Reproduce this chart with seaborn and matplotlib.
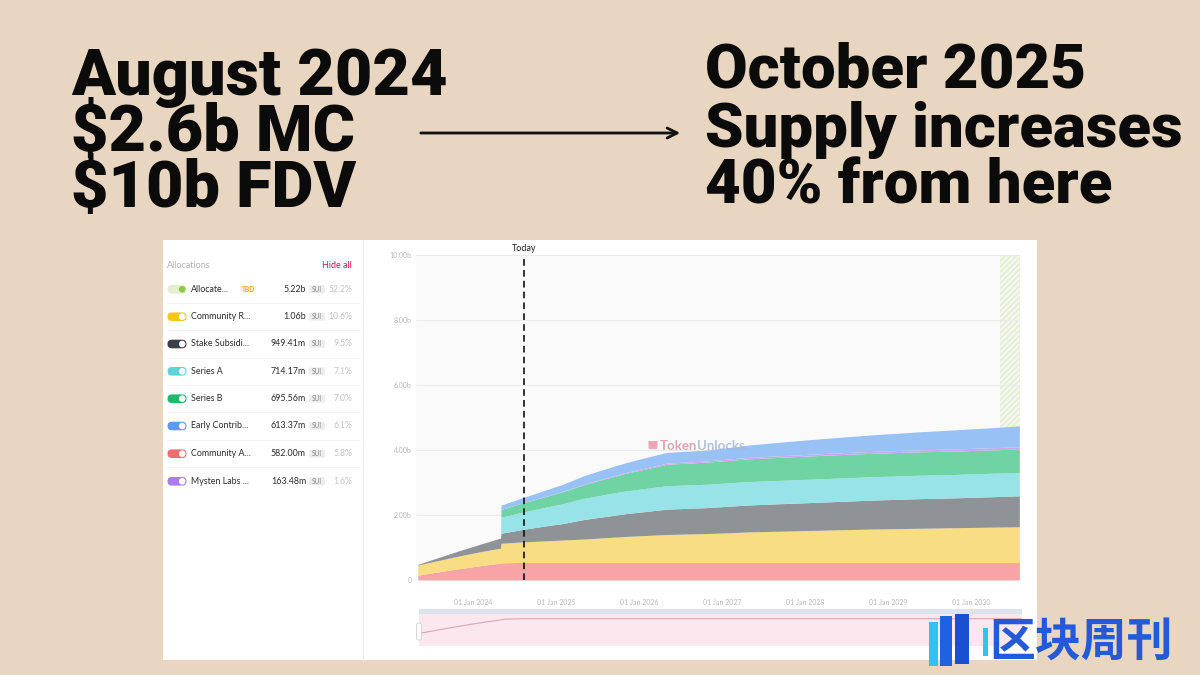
import matplotlib
matplotlib.use("Agg")
import matplotlib.pyplot as plt
from matplotlib.patches import FancyBboxPatch, Rectangle, Circle, Arc
from matplotlib.textpath import TextPath
from matplotlib.font_manager import FontProperties
import seaborn as sns
import pandas as pd

# ---------------- data ----------------
dates = ["2023-05-03", "2023-08-01", "2023-11-01", "2024-02-01", "2024-05-01",
         "2024-05-03", "2024-08-01", "2024-11-01", "2025-02-01", "2025-05-01",
         "2025-08-01", "2025-11-01", "2026-02-01", "2026-05-01", "2026-11-01",
         "2027-05-01", "2027-11-01", "2028-05-01", "2028-11-01", "2029-05-01",
         "2029-11-01", "2030-05-01", "2030-08-01"]
# circulating supply per allocation, billions SUI (stack order bottom -> top)
community_access = [0.15, 0.25, 0.35, 0.44, 0.52, 0.53, 0.54, 0.54, 0.54, 0.54,
                    0.54, 0.54, 0.54, 0.54, 0.54, 0.54, 0.54, 0.54, 0.54, 0.54,
                    0.54, 0.54, 0.54]
community_reserve = [0.31, 0.35, 0.39, 0.43, 0.46, 0.60, 0.63, 0.66, 0.69, 0.72,
                     0.76, 0.80, 0.83, 0.86, 0.89, 0.94, 0.97, 1.00, 1.03, 1.05,
                     1.07, 1.09, 1.10]
stake_subsidies = [0.02, 0.09, 0.16, 0.23, 0.31, 0.31, 0.38, 0.45, 0.51, 0.60,
                   0.65, 0.70, 0.74, 0.78, 0.80, 0.83, 0.85, 0.87, 0.89, 0.91,
                   0.92, 0.94, 0.95]
series_a = [0, 0, 0, 0, 0, 0.49, 0.53, 0.57, 0.61, 0.65, 0.68, 0.70, 0.71, 0.72,
            0.72, 0.72, 0.72, 0.72, 0.72, 0.72, 0.72, 0.72, 0.72]
series_b = [0, 0, 0, 0, 0, 0.24, 0.28, 0.32, 0.37, 0.42, 0.48, 0.54, 0.60, 0.66,
            0.68, 0.70, 0.71, 0.72, 0.72, 0.72, 0.72, 0.72, 0.72]
mysten_labs = [0, 0, 0, 0, 0, 0, 0, 0.005, 0.01, 0.015, 0.02, 0.025, 0.03, 0.035,
               0.04, 0.045, 0.05, 0.055, 0.06, 0.062, 0.065, 0.068, 0.07]
early_contrib = [0, 0, 0, 0, 0, 0.13, 0.16, 0.19, 0.22, 0.26, 0.28, 0.30, 0.32,
                 0.33, 0.33, 0.38, 0.43, 0.47, 0.51, 0.55, 0.59, 0.62, 0.64]

alloc_names = ["Allocate...", "Community R...", "Stake Subsidi...", "Series A",
               "Series B", "Early Contrib...", "Community A...", "Mysten Labs ..."]
alloc_amounts = ["5.22b", "1.06b", "949.41m", "714.17m", "695.56m", "613.37m",
                 "582.00m", "163.48m"]
alloc_pcts = ["52.2%", "10.6%", "9.5%", "7.1%", "7.0%", "6.1%", "5.8%", "1.6%"]

year_ticks = [2024, 2025, 2026, 2027, 2028, 2029, 2030]
y_ticks = [0, 2, 4, 6, 8, 10]
y_tick_labels = ["0", "2.00b", "4.00b", "6.00b", "8.00b", "10.00b"]
today = "2024-08-12"
tbd_span = ["2030-05-08", "2030-08-04"]
x_range = ["2023-04-25", "2030-08-04"]

headline_left = ["August 2024", "$2.6b MC", "$10b FDV"]
headline_right = ["October 2025", "Supply increases", "40% from here"]

# ---------------- style ----------------
sns.set_theme(style="white")
plt.rcParams['font.family'] = ['Lato', 'DejaVu Sans']

BG = '#E9D6C1'
layer_colors = ['#F8A3A5', '#F8DD82', '#8F9297', '#98E3E8', '#6FD3A4', '#C9A7F4', '#98C1F6']
toggle_colors = ['#E4F0CC', '#F5C71A', '#3A3F47', '#5CD4D8', '#1DB86A', '#5B9BF0', '#F26D6D', '#A97CF0']
HEAD_FAMILY = ['Roboto', 'DejaVu Sans']
HEAD_WEIGHT = 'black'

fig = plt.figure(figsize=(12, 6.75), dpi=100, facecolor=BG)
renderer = fig.canvas.get_renderer()

# background axes in pixel coordinates
bg = fig.add_axes([0, 0, 1, 1], zorder=0)
bg.set_xlim(0, 1200)
bg.set_ylim(675, 0)
bg.axis('off')

# ---- headlines ----
def esc(s):
    return s.replace('$', r'\$')

def fit_size(s, target_w, target_cap, size0=40):
    t = bg.text(0, 0, esc(s), fontsize=size0, fontweight=HEAD_WEIGHT, family=HEAD_FAMILY)
    w = t.get_window_extent(renderer).width
    t.remove()
    fp = FontProperties(family=HEAD_FAMILY[0], weight=HEAD_WEIGHT)
    cap = TextPath((0, 0), "H", size=size0, prop=fp).get_extents().height * 100 / 72
    return min(size0 * target_w / w, size0 * target_cap / cap)

size_l = fit_size(headline_left[0], 376, 49)
size_r = fit_size(headline_right[1], 477, 49)
for s, yb in zip(headline_left, [95, 151, 207]):
    bg.text(71, yb, esc(s), fontsize=size_l, fontweight=HEAD_WEIGHT, family=HEAD_FAMILY,
            color='#0b0b0b', va='baseline', ha='left')
for s, yb in zip(headline_right, [88, 147, 203]):
    bg.text(705, yb, esc(s), fontsize=size_r, fontweight=HEAD_WEIGHT, family=HEAD_FAMILY,
            color='#0b0b0b', va='baseline', ha='left')

bg.annotate('', xy=(683, 133), xytext=(418, 133),
            arrowprops=dict(arrowstyle='->', lw=2.0, color='#111111', mutation_scale=18))

# ---- white panel ----
bg.add_patch(Rectangle((163, 240), 874, 420, facecolor='white', edgecolor='none'))
bg.plot([363, 363], [240, 660], color='#ededed', lw=0.8)

# allocations list
bg.text(167, 265, "Allocations", fontsize=6.5, color='#b3b3b3', va='center', ha='left')
bg.text(352, 265, "Hide all", fontsize=6.5, color='#C2185B', va='center', ha='right')
row_y = [289.3, 316.7, 344, 371.3, 398.7, 426, 453.7, 481.3]
for i, (yc, name, amt, pct, tc) in enumerate(zip(row_y, alloc_names, alloc_amounts,
                                                   alloc_pcts, toggle_colors)):
    bg.add_patch(FancyBboxPatch((167.5, yc - 4.3), 19, 8.6,
                                boxstyle="round,pad=0,rounding_size=4.3",
                                facecolor=tc, edgecolor='none'))
    knob = '#8DC63F' if i == 0 else 'white'
    bg.add_patch(Circle((182.2, yc), 3.3, facecolor=knob, edgecolor='none'))
    bg.text(191, yc, name, fontsize=6.4, color='#2b2b2b', va='center', ha='left')
    if i == 0:
        bg.add_patch(FancyBboxPatch((241, yc - 3.8), 15, 7.6,
                                    boxstyle="round,pad=0,rounding_size=1.5",
                                    facecolor='#FFF4DC', edgecolor='none'))
        bg.text(248.5, yc, "TBD", fontsize=4.8, color='#F0A630', va='center',
                ha='center', fontweight='bold')
    bg.text(306, yc, amt, fontsize=6.4, color='#2b2b2b', va='center', ha='right')
    bg.add_patch(FancyBboxPatch((309, yc - 4), 16, 8,
                                boxstyle="round,pad=0,rounding_size=1.5",
                                facecolor='#EDEDED', edgecolor='none'))
    bg.text(317, yc, "SUI", fontsize=4.8, color='#8a8a8a', va='center', ha='center')
    bg.text(352.5, yc, pct, fontsize=6.2, color='#c4c4c4', va='center', ha='right')
    if i < len(row_y) - 1:
        bg.plot([167, 360], [yc + 13.7, yc + 13.7], color='#f2f2f2', lw=0.7)

bg.text(430, 270, "Chart in UTC + 00:00 Time", fontsize=5, color='#c6c6c6',
        va='center', ha='left')

# navigator background
bg.add_patch(Rectangle((419, 609), 603, 5, facecolor='#DDE3EA', edgecolor='none'))
bg.add_patch(Rectangle((419, 614), 603, 32, facecolor='#FBE7ED', edgecolor='none'))

# ---- main chart ----
x = pd.to_datetime(dates)
ax = fig.add_axes([416 / 1200, 1 - 580 / 675, 604 / 1200, 325 / 675], zorder=2)
ax.set_facecolor('#fafafa')
ax.axvspan(pd.Timestamp(tbd_span[0]), pd.Timestamp(tbd_span[1]), facecolor='#F5F7EC',
           edgecolor='#E4EAD0', hatch='//////', lw=0, zorder=0)
ax.stackplot(x, community_access, community_reserve, stake_subsidies, series_a,
             series_b, mysten_labs, early_contrib, colors=layer_colors, lw=0, zorder=2)
ax.set_xlim(pd.Timestamp(x_range[0]), pd.Timestamp(x_range[1]))
ax.set_ylim(0, 10)
ax.set_yticks(y_ticks)
ax.set_yticklabels(y_tick_labels)
ax.set_xticks([pd.Timestamp(f"{y}-01-01") for y in year_ticks])
ax.set_xticklabels([f"01 Jan {y}" for y in year_ticks])
ax.tick_params(axis='both', length=0, labelsize=5, labelcolor='#b8b8b8')
ax.tick_params(axis='x', pad=14)
ax.tick_params(axis='y', pad=3)
ax.yaxis.grid(True, color='#ebebeb', lw=0.8)
ax.xaxis.grid(False)
ax.set_axisbelow(True)
for sp in ax.spines.values():
    sp.set_visible(False)
ax.axvline(pd.Timestamp(today), color='#111111', lw=1.2, ls=(0, (4, 2.5)), zorder=4)
ax.text(pd.Timestamp(today), 10.06, "Today", fontsize=6.5, color='#222222',
        ha='center', va='bottom', clip_on=False)
ax.set_xlabel("")
ax.set_ylabel("")

# watermark
wm = fig.add_axes([0, 0, 1, 1], zorder=3)
wm.set_xlim(0, 1200)
wm.set_ylim(675, 0)
wm.axis('off')
wm.add_patch(FancyBboxPatch((648.5, 441), 9, 8, boxstyle="round,pad=0,rounding_size=1.5",
                            facecolor='#E7A3B3', edgecolor='none', alpha=0.9))
wm.add_patch(Arc((653, 441), 6.5, 9, theta1=0, theta2=180, color='#E7A3B3', lw=1.6))
wm.text(660, 446, "Token", fontsize=9.5, color='#D99DAB', va='center', ha='left',
        alpha=0.9, fontweight='bold')
wm.text(697, 446, "Unlocks.", fontsize=9.5, color='#A9B7D3', va='center', ha='left',
        alpha=0.85, fontweight='bold')

# navigator
nav = fig.add_axes([419 / 1200, 1 - 646 / 675, 603 / 1200, 32 / 675], zorder=2)
nav.patch.set_alpha(0)
sns.lineplot(x=x, y=community_access, ax=nav, color='#D7A6B4', lw=0.8, legend=False)
nav.set_xlim(pd.Timestamp(x_range[0]), pd.Timestamp(x_range[1]))
nav.set_ylim(-0.2, 0.67)
nav.axis('off')
wm.add_patch(FancyBboxPatch((416.5, 623), 5, 17, boxstyle="round,pad=0,rounding_size=2",
                            facecolor='white', edgecolor='#d0d0d0', lw=0.6))

# logo (bottom right)
wm.add_patch(Rectangle((929, 622), 9, 44, facecolor='#2EC4F1', edgecolor='none'))
wm.add_patch(Rectangle((940, 616), 12, 50, facecolor='#1E62E2', edgecolor='none'))
wm.add_patch(Rectangle((955, 614), 14, 50, facecolor='#1A4FCF', edgecolor='none'))
wm.add_patch(Rectangle((983, 628), 5, 28, facecolor='#2EC4F1', edgecolor='none'))
wm.text(989, 643, "区块周刊", fontsize=33, color='#2459D8', va='center', ha='left',
        family=['Noto Sans CJK SC', 'DejaVu Sans'], fontweight='bold')

fig.savefig("out.png", dpi=100, facecolor=BG)
